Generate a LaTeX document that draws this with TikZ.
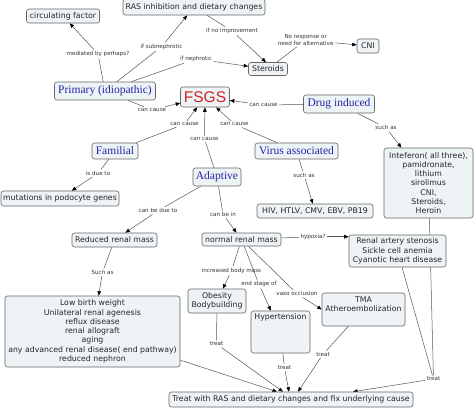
\documentclass[tikz,border=0pt]{standalone}
\usepackage{fontspec}
\setmainfont{DejaVu Sans}
\newfontfamily\serifblue{Liberation Serif}
\newfontfamily\arialf{Liberation Sans}
\usetikzlibrary{arrows.meta,backgrounds}
\definecolor{boxfill}{HTML}{EEF3F6}
\definecolor{boxline}{HTML}{666666}
\definecolor{conblue}{HTML}{2424A8}
\definecolor{fsgsred}{HTML}{D02228}
\definecolor{linec}{HTML}{555555}
\tikzset{
 box/.style={draw=boxline, fill=boxfill, rounded corners=2.5pt, line width=0.6pt, inner sep=1pt,
   font=\fontsize{7.8}{9.3}\selectfont, text=black!85, align=center},
 concept/.style={box, font=\serifblue\fontsize{11.5}{13}\selectfont, text=conblue},
 lbl/.style={font=\fontsize{5.6}{6.6}\selectfont, text=black!80, inner sep=1.4pt, align=center},
 con/.style={draw=linec, line width=0.5pt},
 arr/.style={con, -{Triangle[length=4.5pt,width=3.6pt,color=black]}},
}
\begin{document}
\begin{tikzpicture}[x=1pt,y=-1pt]
\useasboundingbox (0,0) rectangle (474,408);
% concept boxes
\node[box, minimum width=73pt, minimum height=14pt] (cf) at (63,16) {circulating factor};
\node[box, minimum width=142pt, minimum height=16pt] (ras) at (194,7) {RAS inhibition and dietary changes};
\node[concept, minimum width=101pt, minimum height=18pt] (prim) at (105,91) {Primary (idiopathic)};
\node[box, minimum width=49pt, minimum height=20pt, font=\arialf\fontsize{15.5}{17}\selectfont, text=fsgsred] (fsgs) at (205,97) {FSGS};
\node[box, minimum width=39pt, minimum height=13pt] (ster) at (268,69) {Steroids};
\node[box, minimum width=22pt, minimum height=14pt] (cni) at (368,46) {CNI};
\node[concept, minimum width=71pt, minimum height=18pt] (drug) at (339,104) {Drug induced};
\node[concept, minimum width=46pt, minimum height=16pt] (fam) at (115,151) {Familial};
\node[box, minimum width=118pt, minimum height=15pt] (mut) at (60,198.5) {mutations in podocyte genes};
\node[concept, minimum width=48pt, minimum height=18pt] (adap) at (217,177) {Adaptive};
\node[box, minimum width=85pt, minimum height=14pt] (red) at (114.5,240) {Reduced renal mass};
\node[box, minimum width=79pt, minimum height=13pt] (norm) at (241.5,239.5) {normal renal mass};
\node[concept, minimum width=83pt, minimum height=16pt] (virus) at (296.5,151) {Virus associated};
\node[box, minimum width=116pt, minimum height=14pt] (hiv) at (315,211) {HIV, HTLV, CMV, EBV, PB19};
\node[box, minimum width=89pt, minimum height=70pt] (intf) at (428.5,183) {Inteferon( all three),\\pamidronate,\\lithium\\sirolimus\\CNI,\\Steroids,\\Heroin};
\node[box, minimum width=97pt, minimum height=32pt] (renal) at (397.5,251) {Renal artery stenosis\\Sickle cell anemia\\Cyanotic heart disease};
\node[box, minimum width=175pt, minimum height=71pt] (low) at (92.5,331.5) {Low birth weight\\Unilateral renal agenesis\\reflux disease\\renal allograft\\aging\\any advanced renal disease( end pathway)\\reduced nephron};
\node[box, minimum width=58pt, minimum height=24pt] (obes) at (217,301) {Obesity\\Bodybuilding};
\node[box, minimum width=59pt, minimum height=42pt] (hyp) at (280.5,332) {};
\node[inner sep=0pt, font=\fontsize{7.8}{9.3}\selectfont, text=black!85] (hyptxt) at (280.5,317.5) {Hypertension};
\node[box, minimum width=83pt, minimum height=33pt] (tma) at (363.5,309.5) {};
\node[inner sep=0pt, align=center, font=\fontsize{7.8}{9.3}\selectfont, text=black!85] (tmatxt) at (363.5,304.5) {TMA\\Atheroembolization};
\node[box, minimum width=244pt, minimum height=15pt] (treat) at (291,399.5) {Treat with RAS and dietary changes and fix underlying cause};
% linking phrases
\node[lbl] (lmed) at (98,54) {mediated by perhaps?};
\node[lbl] (lsub) at (161.5,46.7) {if subnephrotic};
\node[lbl] (lneph) at (196,59) {if nephrotic};
\node[lbl] (lnoimp) at (232,31) {if no improvement};
\node[lbl] (lnoresp) at (305.7,40) {No response or\\need for alternative};
\node[lbl] (lpc) at (152,110) {can cause};
\node[lbl] (ldc) at (263.5,105) {can cause};
\node[lbl] (lfc) at (184.5,124) {can cause};
\node[lbl] (lac) at (204.5,139) {can cause};
\node[lbl] (lvc) at (234.5,124.3) {can cause};
\node[lbl] (ldue) at (98,173.3) {is due to};
\node[lbl] (lcbd) at (158,210.7) {can be due to};
\node[lbl] (lcbi) at (223,214.3) {can be in};
\node[lbl] (lvsa) at (304,175) {such as};
\node[lbl] (ldsa) at (386,127.7) {such as};
\node[lbl] (lhyp) at (313,236.7) {hypoxia?};
\node[lbl] (lrsa) at (102.5,272.3) {Such as};
\node[lbl] (libm) at (231.5,270.7) {increased body mass};
\node[lbl] (lesf) at (259,284.3) {end stage of};
\node[lbl] (lvo) at (297,293.7) {vaso occlusion};
\node[lbl] (lt1) at (216.5,344) {treat};
\node[lbl] (lt2) at (284.5,367.7) {treat};
\node[lbl] (lt3) at (323,354.3) {treat};
\node[lbl] (lt4) at (433.5,379) {treat};
% connectors
\begin{pgfonlayer}{background}
\fill[white] (0,0) rectangle (474,408);
\draw[con] (prim) -- (lmed); \draw[arr] (lmed) -- (cf);
\draw[con] (prim) -- (lsub); \draw[arr] (lsub) -- (ras);
\draw[con] (prim) -- (lneph); \draw[arr] (lneph) -- (ster);
\draw[con] (ras) -- (lnoimp); \draw[arr] (lnoimp) -- ([xshift=-2pt]ster.north);
\draw[con] (ster) -- (lnoresp); \draw[arr] (lnoresp) -- (cni);
\draw[con] (prim) -- (lpc); \draw[arr] (lpc) -- (fsgs);
\draw[con] (drug) -- (ldc); \draw[arr] (ldc) -- (fsgs);
\draw[con] (fam) -- (lfc); \draw[arr] (lfc) -- (fsgs);
\draw[con] (adap) -- (lac); \draw[arr] (lac) -- (fsgs);
\draw[con] (virus) -- (lvc); \draw[arr] (lvc) -- (fsgs);
\draw[con] (fam) -- (ldue); \draw[arr] (ldue) -- (mut);
\draw[con] (adap) -- (lcbd); \draw[arr] (lcbd) -- (red);
\draw[con] (adap) -- (lcbi); \draw[arr] (lcbi) -- (norm);
\draw[con] (virus) -- (lvsa); \draw[arr] (lvsa) -- (hiv);
\draw[con] (drug) -- (ldsa); \draw[arr] (ldsa) -- (intf);
\draw[con] (norm) -- (lhyp); \draw[arr] (lhyp) -- (lhyp -| renal.west);
\draw[con] (red) -- (lrsa); \draw[arr] (lrsa) -- (low);
\draw[con] (norm) -- (libm); \draw[arr] (libm) -- (obes);
\draw[con] (norm) -- (lesf); \draw[arr] (lesf) -- (hyp);
\draw[con] (norm) -- (lvo); \draw[arr] (lvo) -- (tma.west);
\draw[arr] (low) -- ([xshift=-14pt]treat.north);
\draw[con] (obes) -- (lt1); \draw[arr] (lt1) -- ([xshift=-8pt]treat.north);
\draw[con] (hyp) -- (lt2); \draw[arr] (lt2) -- ([xshift=-2pt]treat.north);
\draw[con] (tma) -- (lt3); \draw[arr] (lt3) -- ([xshift=7pt]treat.north);
\draw[con] (intf) -- (lt4); \draw[con] (renal) -- (lt4);
\draw[arr] (lt4) -- ([xshift=62pt]treat.north);
\end{pgfonlayer}
\end{tikzpicture}
\end{document}
